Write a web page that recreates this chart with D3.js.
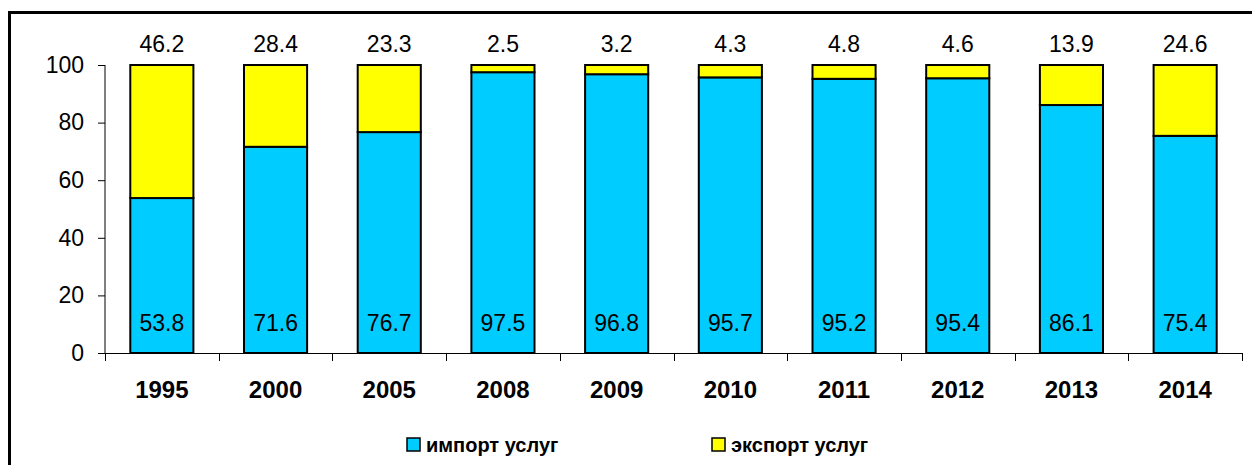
<!DOCTYPE html>
<html>
<head>
<meta charset="utf-8">
<script src="https://cdn.jsdelivr.net/npm/d3@7"></script>
<style>
  body { margin: 0; background: #fff; }
  svg { display: block; font-family: Arial, "Liberation Sans", sans-serif; }
</style>
</head>
<body>
<svg id="chart" width="1252" height="465"></svg>
<script>
// data
var years = ["1995", "2000", "2005", "2008", "2009", "2010", "2011", "2012", "2013", "2014"];
var importVals = [53.8, 71.6, 76.7, 97.5, 96.8, 95.7, 95.2, 95.4, 86.1, 75.4];
var exportVals = [46.2, 28.4, 23.3, 2.5, 3.2, 4.3, 4.8, 4.6, 13.9, 24.6];
var yTicks = [0, 20, 40, 60, 80, 100];
var seriesNames = ["импорт услуг", "экспорт услуг"];
var seriesColors = ["#00CCFF", "#FFFF00"];

var svg = d3.select("#chart");

// outer frame (runs off the right and bottom edge)
svg.append("rect")
  .attr("x", 9.5).attr("y", 12.5)
  .attr("width", 1300).attr("height", 500)
  .attr("fill", "none").attr("stroke", "#000").attr("stroke-width", 3);

var plotL = 105, plotR = 1242, plotT = 65, plotB = 353;

var x = d3.scaleBand().domain(years).range([plotL, plotR]).paddingInner(0.445).paddingOuter(0.2225);
var y = d3.scaleLinear().domain([0, 100]).range([plotB, plotT]);

var rows = years.map(function (yr, i) {
  return { year: yr, imp: importVals[i], exp: exportVals[i] };
});

var g = svg.append("g");

// import part
g.selectAll("rect.imp").data(rows).enter().append("rect")
  .attr("class", "imp")
  .attr("x", function (d) { return x(d.year); })
  .attr("y", function (d) { return y(d.imp); })
  .attr("width", x.bandwidth())
  .attr("height", function (d) { return y(0) - y(d.imp); })
  .attr("fill", seriesColors[0]).attr("stroke", "#000").attr("stroke-width", 2);

// export part stacked on top
g.selectAll("rect.exp").data(rows).enter().append("rect")
  .attr("class", "exp")
  .attr("x", function (d) { return x(d.year); })
  .attr("y", function (d) { return y(d.imp + d.exp); })
  .attr("width", x.bandwidth())
  .attr("height", function (d) { return y(d.imp) - y(d.imp + d.exp); })
  .attr("fill", seriesColors[1]).attr("stroke", "#000").attr("stroke-width", 2);

// value labels
g.selectAll("text.top").data(rows).enter().append("text")
  .attr("x", function (d) { return x(d.year) + x.bandwidth() / 2; })
  .attr("y", y(100) - 13)
  .attr("text-anchor", "middle").attr("font-size", 23)
  .text(function (d) { return d.exp.toFixed(1); });

g.selectAll("text.bot").data(rows).enter().append("text")
  .attr("x", function (d) { return x(d.year) + x.bandwidth() / 2; })
  .attr("y", y(0) - 22)
  .attr("text-anchor", "middle").attr("font-size", 23)
  .text(function (d) { return d.imp.toFixed(1); });

// y axis
var yAxis = svg.append("g")
  .attr("transform", "translate(" + plotL + ",0)")
  .call(d3.axisLeft(y).tickValues(yTicks).tickSize(7).tickPadding(14));
yAxis.selectAll("text").attr("font-size", 23).attr("fill", "#000").attr("font-family", "Arial, 'Liberation Sans', sans-serif");
yAxis.select(".domain").attr("d", "M0," + plotT + "V" + plotB).attr("stroke", "#000");

// x axis with ticks between categories
var xAxis = svg.append("g").attr("transform", "translate(0," + plotB + ")");
xAxis.append("line").attr("x1", plotL).attr("x2", plotR).attr("y1", 0.5).attr("y2", 0.5).attr("stroke", "#000");
var bounds = d3.range(years.length + 1).map(function (i) { return plotL + i * (plotR - plotL) / years.length; });
xAxis.selectAll("line.tk").data(bounds).enter().append("line")
  .attr("x1", function (d) { return Math.round(d) + 0.5; })
  .attr("x2", function (d) { return Math.round(d) + 0.5; })
  .attr("y1", 0).attr("y2", 8).attr("stroke", "#000");
xAxis.selectAll("text").data(years).enter().append("text")
  .attr("x", function (d) { return x(d) + x.bandwidth() / 2; })
  .attr("y", 45)
  .attr("text-anchor", "middle").attr("font-size", 24).attr("font-weight", "bold")
  .text(function (d) { return d; });

// legend
var legendX = [407, 712];
var lg = svg.selectAll("g.leg").data(seriesNames).enter().append("g")
  .attr("transform", function (d, i) { return "translate(" + legendX[i] + ",438)"; });
lg.append("rect").attr("width", 13).attr("height", 13)
  .attr("fill", function (d, i) { return seriesColors[i]; })
  .attr("stroke", "#000").attr("stroke-width", 1.5);
lg.append("text").attr("x", 19).attr("y", 14)
  .attr("font-size", 20).attr("font-weight", "bold")
  .text(function (d) { return d; });
</script>
</body>
</html>
